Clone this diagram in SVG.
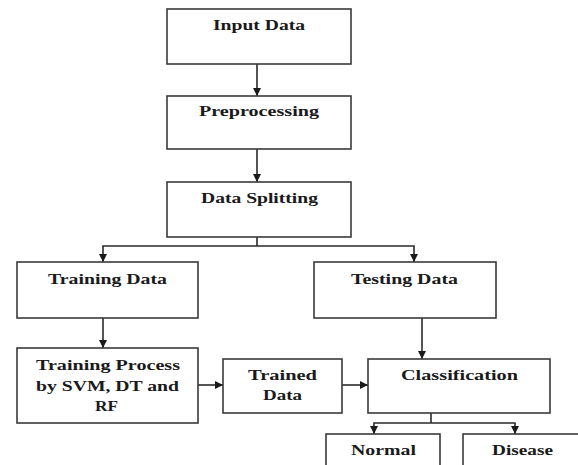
<svg xmlns="http://www.w3.org/2000/svg" width="578" height="465" viewBox="0 0 578 465">
<style>
.box{fill:#fff;stroke:#3a3a3a;stroke-width:1.6}
.t{font-family:"Liberation Serif","Times New Roman",serif;font-weight:bold;font-size:15px;fill:#1a1a1a}
.c{fill:none;stroke:#2a2a2a;stroke-width:1.6}
</style>
<defs>
<marker id="ah" markerWidth="8" markerHeight="8" refX="8" refY="4" orient="auto" markerUnits="userSpaceOnUse">
<path d="M0,0 L8,4 L0,8 Z" fill="#1a1a1a"/>
</marker>
</defs>
<rect width="578" height="465" fill="#fff"/>
<g id="connectors">
<line class="c" x1="257" y1="64" x2="257" y2="96" marker-end="url(#ah)"/>
<line class="c" x1="257" y1="149" x2="257" y2="182" marker-end="url(#ah)"/>
<polyline class="c" points="257,237 257,246"/>
<polyline class="c" points="257,246 103,246 103,262" marker-end="url(#ah)"/>
<polyline class="c" points="257,246 414,246 414,262" marker-end="url(#ah)"/>
<line class="c" x1="103" y1="318" x2="103" y2="348" marker-end="url(#ah)"/>
<line class="c" x1="198" y1="385" x2="223" y2="385" marker-end="url(#ah)"/>
<line class="c" x1="342" y1="385" x2="368" y2="385" marker-end="url(#ah)"/>
<line class="c" x1="422" y1="318" x2="422" y2="359" marker-end="url(#ah)"/>
<polyline class="c" points="431,413 431,423"/>
<polyline class="c" points="431,423 374,423 374,434" marker-end="url(#ah)"/>
<polyline class="c" points="431,423 515,423 515,434" marker-end="url(#ah)"/>
</g>
<g id="input">
<rect class="box" x="167" y="9" width="184" height="55"/>
<text class="t" x="213" y="30" textLength="92" lengthAdjust="spacingAndGlyphs">Input Data</text>
</g>
<g id="preprocessing">
<rect class="box" x="167" y="96" width="184" height="53"/>
<text class="t" x="199" y="116" textLength="120" lengthAdjust="spacingAndGlyphs">Preprocessing</text>
</g>
<g id="splitting">
<rect class="box" x="167" y="182" width="184" height="55"/>
<text class="t" x="201" y="203" textLength="117" lengthAdjust="spacingAndGlyphs">Data Splitting</text>
</g>
<g id="training">
<rect class="box" x="17" y="262" width="181" height="56"/>
<text class="t" x="48" y="284" textLength="119" lengthAdjust="spacingAndGlyphs">Training Data</text>
</g>
<g id="testing">
<rect class="box" x="314" y="262" width="182" height="56"/>
<text class="t" x="351" y="284" textLength="107" lengthAdjust="spacingAndGlyphs">Testing Data</text>
</g>
<g id="process">
<rect class="box" x="17" y="348" width="181" height="75"/>
<text class="t" x="36" y="370" textLength="144" lengthAdjust="spacingAndGlyphs">Training Process</text>
<text class="t" x="36" y="391" textLength="143" lengthAdjust="spacingAndGlyphs">by SVM, DT and</text>
<text class="t" x="95" y="411" textLength="23" lengthAdjust="spacingAndGlyphs">RF</text>
</g>
<g id="trained">
<rect class="box" x="223" y="359" width="119" height="54"/>
<text class="t" x="248" y="380" textLength="69" lengthAdjust="spacingAndGlyphs">Trained</text>
<text class="t" x="263" y="400" textLength="39" lengthAdjust="spacingAndGlyphs">Data</text>
</g>
<g id="classification">
<rect class="box" x="368" y="359" width="182" height="54"/>
<text class="t" x="401" y="380" textLength="117" lengthAdjust="spacingAndGlyphs">Classification</text>
</g>
<g id="normal">
<rect class="box" x="326" y="434" width="114" height="50"/>
<text class="t" x="351" y="455" textLength="65" lengthAdjust="spacingAndGlyphs">Normal</text>
</g>
<g id="disease">
<rect class="box" x="463" y="434" width="130" height="50"/>
<text class="t" x="492" y="455" textLength="61" lengthAdjust="spacingAndGlyphs">Disease</text>
</g>
</svg>
